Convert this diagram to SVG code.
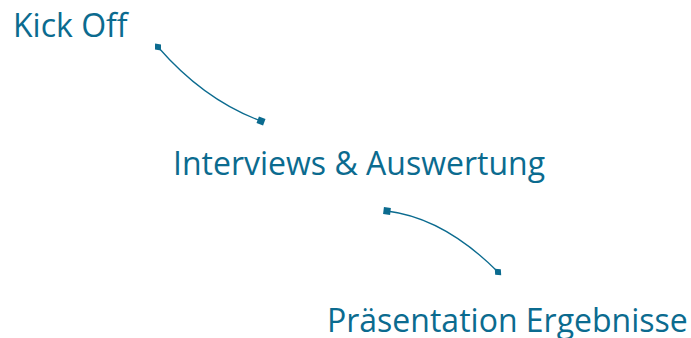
<svg xmlns="http://www.w3.org/2000/svg" width="691" height="338" viewBox="0 0 691 338">
<style>
.lbl{font-family:"Open Sans",sans-serif;font-size:32px;fill:#0b6b8f}
.con{fill:none;stroke:#0b6b8f;stroke-width:1.3}
</style>
<defs>
<marker id="dia" viewBox="-6 -6 12 12" markerWidth="12" markerHeight="12" markerUnits="userSpaceOnUse" orient="auto">
<path d="M-4.5,0 L0,-4 L4.5,0 L0,4 Z" fill="#0b6b8f"/>
</marker>
<marker id="sq" viewBox="-5 -5 10 10" markerWidth="10" markerHeight="10" markerUnits="userSpaceOnUse" orient="auto">
<rect x="-3.5" y="-3.5" width="7" height="7" fill="#0b6b8f"/>
</marker>
</defs>
<rect width="691" height="338" fill="#fff"/>
<g id="connectors">
<path class="con" d="M158,47 Q204,100 261,121" marker-start="url(#dia)" marker-end="url(#sq)"/>
<path class="con" d="M387,211 Q444,218 498,272" marker-start="url(#sq)" marker-end="url(#dia)"/>
</g>
<g id="kickoff"><text class="lbl" x="13" y="37">Kick Off</text></g>
<g id="interviews"><text class="lbl" x="173" y="175">Interviews &amp; Auswertung</text></g>
<g id="praesentation"><text class="lbl" x="327" y="332">Präsentation Ergebnisse</text></g>
</svg>
